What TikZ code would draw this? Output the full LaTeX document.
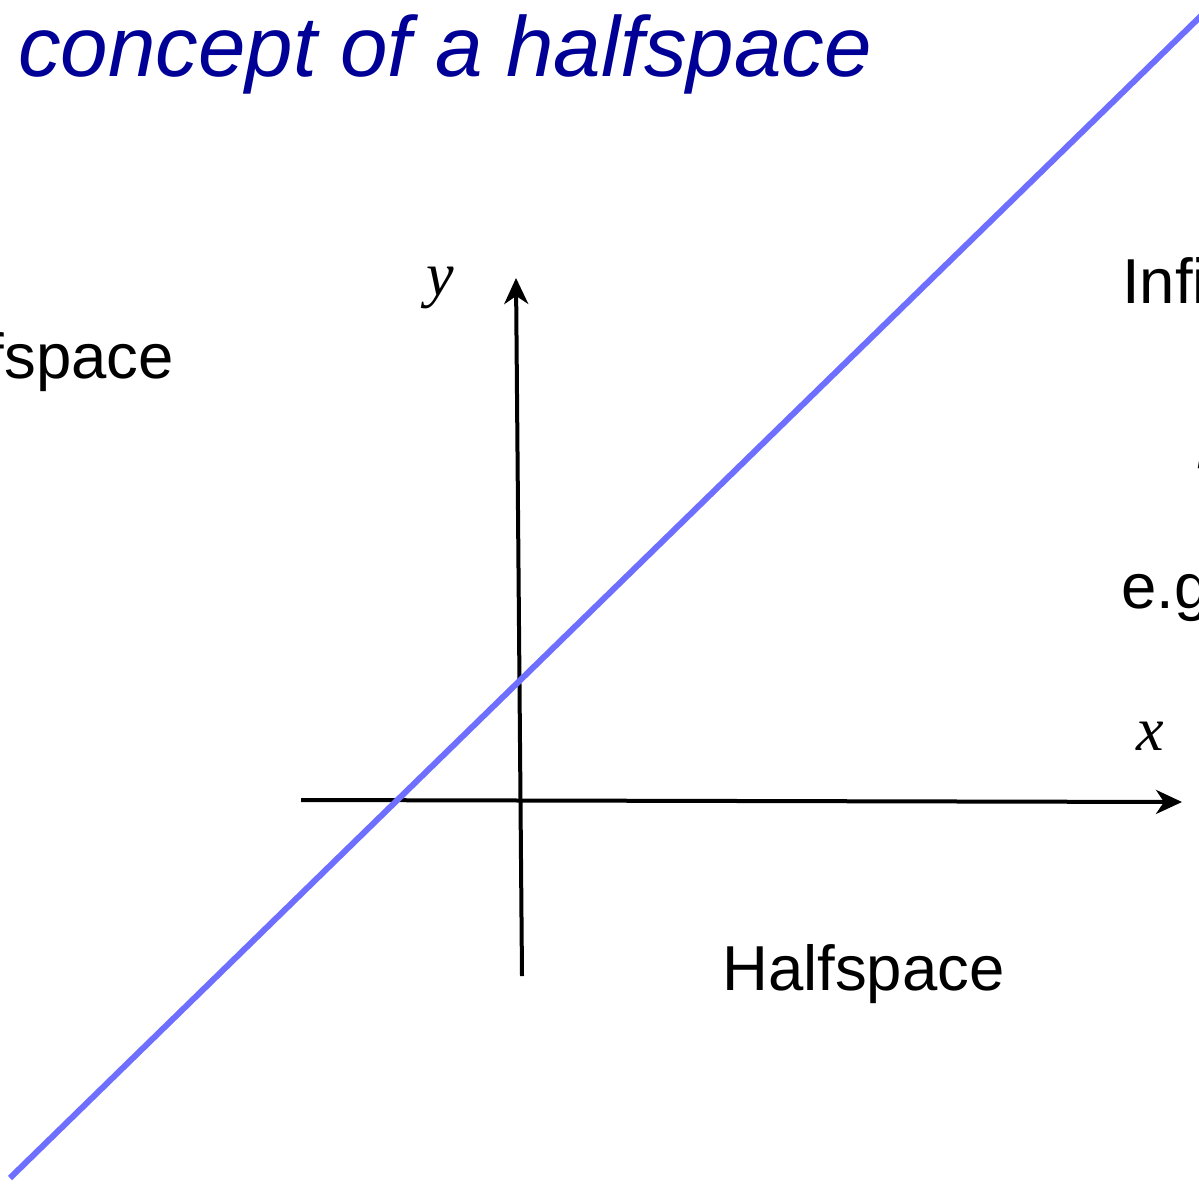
\documentclass[tikz,border=0pt]{standalone}
\usepackage{fontspec}
\setmainfont{Liberation Sans}
\newfontfamily\serifit{Liberation Serif}
\usetikzlibrary{arrows.meta}
\definecolor{titleblue}{RGB}{0,0,150}
\definecolor{lineblue}{RGB}{110,110,255}
\tikzset{
  axisline/.style={line width=4pt, -{Stealth[length=26pt,width=24pt,inset=8pt]}},
  lbl/.style={inner sep=0pt, font=\fontsize{63.5}{70}\selectfont},
  var/.style={inner sep=0pt, font=\fontsize{62}{70}\serifit\itshape},
}
\begin{document}
\begin{tikzpicture}[x=1pt,y=-1pt]
\useasboundingbox (0,0) rectangle (1199,1183);
\clip (0,0) rectangle (1199,1183);
% title
\node[inner sep=0pt, anchor=base west, text=titleblue, font=\fontsize{85.3}{90}\selectfont\itshape] (title) at (18,76) {concept of a halfspace};
% axes
\coordinate (xs) at (301,800);
\coordinate (xe) at (1182,802);
\coordinate (ys) at (522,976);
\coordinate (ye) at (516,278);
\draw[axisline] (xs) -- (xe);
\draw[axisline] (ys) -- (ye);
% halfspace boundary line
\coordinate (la) at (10,1178);
\coordinate (lb) at (1205,12);
\draw[lineblue, line width=6pt] (la) -- (lb);
% labels
\node[var, anchor=base] (ylab) at (440,295) {y};
\node[var, anchor=base] (xlab) at (1150,750) {x};
\node[var, anchor=base west] (fpart) at (1197,455) {f};
\node[lbl, anchor=base east] (hs1) at (174,378) {Halfspace};
\node[lbl, anchor=base west] (inf) at (1122,303) {Infinite};
\node[lbl, anchor=base west] (eg) at (1121,608) {e.g.};
\node[lbl, anchor=base west] (hs2) at (722,990) {Halfspace};
\end{tikzpicture}
\end{document}
